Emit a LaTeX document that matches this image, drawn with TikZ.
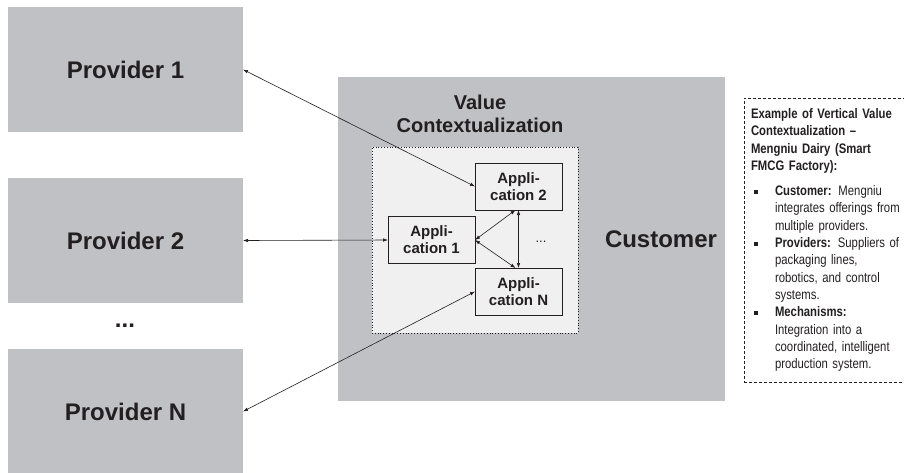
\documentclass[tikz,border=0pt]{standalone}
\usepackage{fontspec}
\setmainfont{Liberation Sans}
\newfontfamily\narrowfont[FakeStretch=0.82]{Liberation Sans}
\usepackage{xcolor}
\usetikzlibrary{positioning, arrows.meta}
\definecolor{provgray}{RGB}{192,193,196}
\definecolor{boxfill}{RGB}{240,240,240}
\definecolor{inkdark}{RGB}{35,31,32}
\newcommand{\bulletsq}{\makebox[24pt][l]{\hspace{3pt}\rule[2pt]{3.5pt}{3.5pt}}}
\newcommand{\indentsq}{\hspace*{24pt}}

\begin{document}
\begin{tikzpicture}[x=1pt, y=-1pt, node distance=46pt, every node/.style={font=\bfseries, text=inkdark, outer sep=0pt}, align=center,
    block/.style={rectangle, fill=provgray, minimum width=235pt, minimum height=125pt, font=\fontsize{24}{28}\selectfont\bfseries},
    app/.style={rectangle, draw=inkdark, fill=boxfill, line width=0.6pt, minimum width=87pt, minimum height=47pt, inner sep=1pt, font=\fontsize{15}{17}\selectfont\bfseries},
    link/.style={{Latex[length=5pt,width=3.5pt]}-{Latex[length=5pt,width=3.5pt]}, draw=inkdark, line width=0.6pt}]
            \useasboundingbox (0,0) rectangle (904,472);

            % Providers
            \node (prov1) [block] at (125.5,69.5) {Provider 1};
            \node (prov2) [block, below=of prov1] {Provider 2};
            \node (provN) [block, below=of prov2] {Provider N};
            \node (provdots) [font=\fontsize{24}{28}\selectfont\bfseries] at (125,326) {...};

            % Customer
            \node (customer) [rectangle, fill=provgray, minimum width=387pt, minimum height=324pt] at (531.5,239) {};
            \node (custlabel) [font=\fontsize{24}{28}\selectfont\bfseries] at (661,239) {Customer};
            \node (valuectx) [font=\fontsize{20}{23}\selectfont\bfseries] at (480,114) {Value\\Contextualization};

            % Applications
            \node (ctxbox) [rectangle, draw=inkdark, dotted, line width=0.8pt, fill=boxfill, minimum width=206pt, minimum height=186pt] at (475,240) {};
            \node (app2) [app] at (518.5,186.5) {Appli-\\cation 2};
            \node (appN) [app, below=58pt of app2] {Appli-\\cation N};
            \node (app1) [app] at (431.5,240) {Appli-\\cation 1};
            \node (appdots) [font=\fontsize{13}{15}\selectfont] at (541,242) {...};

            % Example box
            \node (example) [rectangle, draw=inkdark, densely dashed, line width=0.5pt, anchor=north west, text width=160pt, inner xsep=7pt, minimum height=284pt, align=left, font=\narrowfont\fontsize{13.8}{17.3}\selectfont] at (744,98) {%
                \textbf{Example of Vertical Value}\\
                \textbf{Contextualization –}\\
                \textbf{Mengniu Dairy (Smart}\\
                \textbf{FMCG Factory):}\\[8pt]
                \bulletsq\textbf{Customer:} Mengniu\\
                \indentsq integrates offerings from\\
                \indentsq multiple providers.\\
                \bulletsq\textbf{Providers:} Suppliers of\\
                \indentsq packaging lines,\\
                \indentsq robotics, and control\\
                \indentsq systems.\\
                \bulletsq\textbf{Mechanisms:}\\
                \indentsq Integration into a\\
                \indentsq coordinated, intelligent\\
                \indentsq production system.};

            % Links
            \draw [link] (prov1.east) -- (app2.west);
            \draw [link] (prov2.east) -- (app1.west);
            \draw [link] (provN.east) -- (appN.west);
            \draw [link] (app1.east) -- ([xshift=-3pt]app2.south);
            \draw [link] (app1.east) -- ([xshift=-3pt]appN.north);
            \draw [link] (app2.south) -- (appN.north);
        \end{tikzpicture}
\end{document}
